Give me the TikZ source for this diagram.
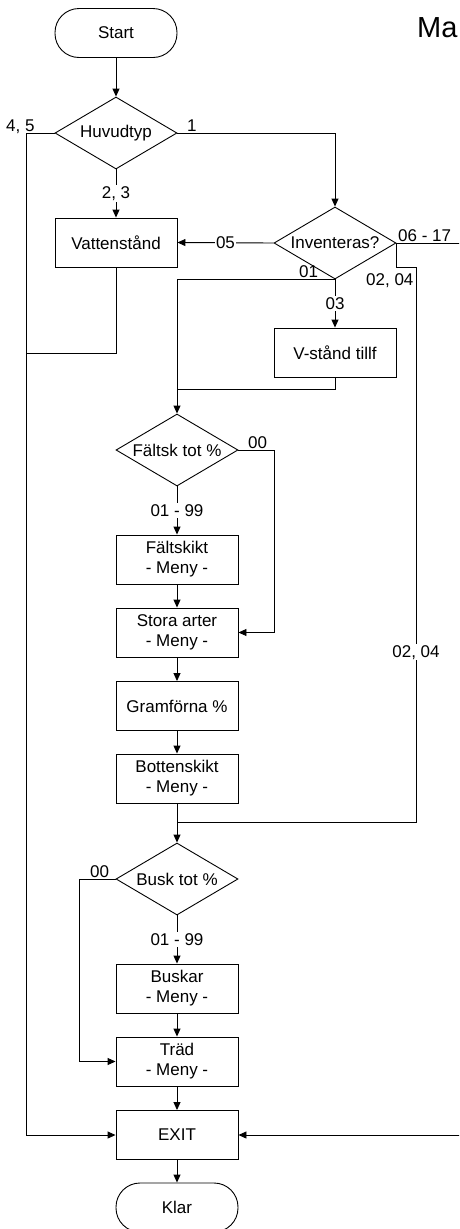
\documentclass[tikz,border=0pt]{standalone}
\usepackage{fontspec}
\setmainfont{Liberation Sans}
\usetikzlibrary{shapes.geometric,arrows.meta}
\begin{document}
\begin{tikzpicture}[x=1pt,y=-1pt,
  every node/.style={font=\fontsize{17}{20}\selectfont},
  box/.style={draw, rectangle, minimum width=122pt, minimum height=49pt, inner sep=0pt, align=center, line width=0.9pt},
  term/.style={box, rounded corners=24pt},
  dec/.style={draw, diamond, minimum width=122pt, minimum height=72pt, inner sep=0pt, aspect=1.7, line width=0.9pt},
  conn/.style={line width=0.9pt},
  arr/.style={conn, -{Triangle[length=8pt,width=7pt]}},
  lbl/.style={inner sep=0pt},
  ilbl/.style={inner sep=1.2pt, fill=white},
]
\path[use as bounding box, clip] (0,0) rectangle (459,1229);

% nodes
\node[term] (start) at (116,33) {Start};
\node[dec] (huv) at (116,133) {Huvudtyp};
\node[box] (vatt) at (116,242.5) {Vattenstånd};
\node[dec] (inv) at (335,243) {Inventeras?};
\node[box] (vst) at (335,352.5) {V-stånd tillf};
\node[dec] (falt) at (177,450) {Fältsk tot \%};
\node[box] (fsk) at (177,559.5) {Fältskikt\\- Meny -};
\node[box] (stora) at (177,632.5) {Stora arter\\- Meny -};
\node[box] (gram) at (177,706) {Gramförna \%};
\node[box] (bott) at (177,778.5) {Bottenskikt\\- Meny -};
\node[dec] (busk) at (177,879) {Busk tot \%};
\node[box] (buskar) at (177,988.5) {Buskar\\- Meny -};
\node[box] (trad) at (177,1061.5) {Träd\\- Meny -};
\node[box] (exit) at (177,1135) {EXIT};
\node[term] (klar) at (177,1207.5) {Klar};
\node[anchor=base west, inner sep=0pt, font=\fontsize{29}{34}\selectfont] (title) at (417,37) {Ma};

% helper coordinates
\coordinate (c45) at (26,133);
\coordinate (c45b) at (26,1135);
\coordinate (jv) at (26,353);
\coordinate (off1) at (490,243);
\coordinate (off2) at (490,1135);
\coordinate (c0204) at (416,267);
\coordinate (c0204b) at (416,822);
\coordinate (j2) at (177,822);
\coordinate (jv2) at (177,389);
\coordinate (c00a) at (274,450);
\coordinate (c00b) at (79,879);

% connectors
\draw[arr] (start) -- (huv);
\draw[arr] (huv.west) -- (c45) -- (c45b) -- (exit.west);
\draw[conn] (vatt.south) |- (jv);
\draw[arr] (huv.east) -| (inv.north);
\draw[arr] (huv.south) -- node[ilbl] (l23) {2, 3} (vatt.north);
\draw[arr] (inv.west) -- node[ilbl] (l05) {05} (vatt.east);
\draw[arr] (inv.east) -- (off1) -- (off2) -- (exit.east);
\draw[conn] (inv.east) |- (c0204) -- node[ilbl, pos=0.694] (l0204b) {02, 04} (c0204b) -- (j2);
\draw[arr] (inv.south) -| (falt.north);
\draw[arr] (inv.south) -- node[ilbl] (l03) {03} (vst.north);
\draw[conn] (vst.south) |- (jv2);
\draw[arr] (falt.east) -- (c00a) |- (stora.east);
\draw[arr] (falt.south) -- node[ilbl] (l0199a) {01 - 99} (fsk.north);
\draw[arr] (fsk) -- (stora);
\draw[arr] (stora) -- (gram);
\draw[arr] (gram) -- (bott);
\draw[arr] (bott) -- (busk);
\draw[arr] (busk.west) -- (c00b) |- (trad.west);
\draw[arr] (busk.south) -- node[ilbl] (l0199b) {01 - 99} (buskar.north);
\draw[arr] (buskar) -- (trad);
\draw[arr] (trad) -- (exit);
\draw[arr] (exit) -- (klar);

% edge labels
\node[lbl, anchor=base west] (l45) at (6,131) {4, 5};
\node[lbl, anchor=base west] (l1) at (187,131) {1};
\node[lbl, anchor=base west] (l0617) at (398,241) {06 - 17};
\node[lbl, anchor=base west] (l01) at (299,277) {01};
\node[lbl, anchor=base west] (l0204a) at (366,285) {02, 04};
\node[lbl, anchor=base west] (l00a) at (248,448) {00};
\node[lbl, anchor=base west] (l00b) at (90,877) {00};
\end{tikzpicture}
\end{document}
